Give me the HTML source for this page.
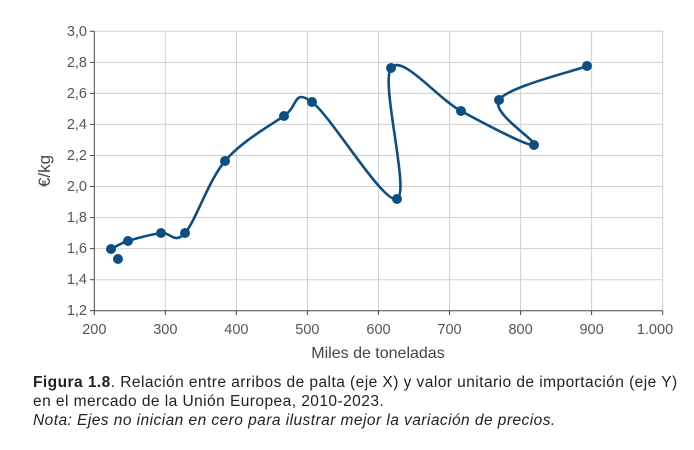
<!DOCTYPE html>
<html><head><meta charset="utf-8"><style>
body{margin:0;background:#fff;width:694px;height:450px;overflow:hidden;font-family:"Liberation Sans",sans-serif;}
.cap{position:absolute;left:33px;font-size:15.5px;letter-spacing:0.45px;color:#222;white-space:nowrap;}
</style></head><body>
<svg width="694" height="450" style="position:absolute;left:0;top:0" font-family="Liberation Sans, sans-serif">
<g stroke="#d0d0d0" stroke-width="1">
<line x1="94.3" y1="31.3" x2="662.7" y2="31.3"/>
<line x1="94.3" y1="62.4" x2="662.7" y2="62.4"/>
<line x1="94.3" y1="93.4" x2="662.7" y2="93.4"/>
<line x1="94.3" y1="124.4" x2="662.7" y2="124.4"/>
<line x1="94.3" y1="155.5" x2="662.7" y2="155.5"/>
<line x1="94.3" y1="186.5" x2="662.7" y2="186.5"/>
<line x1="94.3" y1="217.6" x2="662.7" y2="217.6"/>
<line x1="94.3" y1="248.6" x2="662.7" y2="248.6"/>
<line x1="94.3" y1="279.7" x2="662.7" y2="279.7"/>
<line x1="165.3" y1="31.3" x2="165.3" y2="310.7"/>
<line x1="236.4" y1="31.3" x2="236.4" y2="310.7"/>
<line x1="307.4" y1="31.3" x2="307.4" y2="310.7"/>
<line x1="378.5" y1="31.3" x2="378.5" y2="310.7"/>
<line x1="449.5" y1="31.3" x2="449.5" y2="310.7"/>
<line x1="520.6" y1="31.3" x2="520.6" y2="310.7"/>
<line x1="591.6" y1="31.3" x2="591.6" y2="310.7"/>
<line x1="662.7" y1="31.3" x2="662.7" y2="310.7"/>
</g>
<g stroke="#444" stroke-width="1">
<line x1="94.3" y1="31.3" x2="94.3" y2="310.7"/>
<line x1="94.3" y1="310.7" x2="662.7" y2="310.7"/>
<line x1="90" y1="31.3" x2="94.3" y2="31.3"/><line x1="90" y1="62.4" x2="94.3" y2="62.4"/><line x1="90" y1="93.4" x2="94.3" y2="93.4"/><line x1="90" y1="124.4" x2="94.3" y2="124.4"/><line x1="90" y1="155.5" x2="94.3" y2="155.5"/><line x1="90" y1="186.5" x2="94.3" y2="186.5"/><line x1="90" y1="217.6" x2="94.3" y2="217.6"/><line x1="90" y1="248.6" x2="94.3" y2="248.6"/><line x1="90" y1="279.7" x2="94.3" y2="279.7"/><line x1="90" y1="310.7" x2="94.3" y2="310.7"/>
<line x1="94.3" y1="310.7" x2="94.3" y2="315"/><line x1="165.3" y1="310.7" x2="165.3" y2="315"/><line x1="236.4" y1="310.7" x2="236.4" y2="315"/><line x1="307.4" y1="310.7" x2="307.4" y2="315"/><line x1="378.5" y1="310.7" x2="378.5" y2="315"/><line x1="449.5" y1="310.7" x2="449.5" y2="315"/><line x1="520.6" y1="310.7" x2="520.6" y2="315"/><line x1="591.6" y1="310.7" x2="591.6" y2="315"/><line x1="662.7" y1="310.7" x2="662.7" y2="315"/>
</g>
<g font-size="14.5" fill="#555" text-anchor="end">
<text x="87" y="36">3,0</text><text x="87" y="67">2,8</text><text x="87" y="98">2,6</text><text x="87" y="129">2,4</text><text x="87" y="160">2,2</text><text x="87" y="191">2,0</text><text x="87" y="222">1,8</text><text x="87" y="253">1,6</text><text x="87" y="284">1,4</text><text x="87" y="315">1,2</text>
</g>
<g font-size="14.5" fill="#555" text-anchor="middle">
<text x="94.3" y="334">200</text><text x="165.3" y="334">300</text><text x="236.4" y="334">400</text><text x="307.4" y="334">500</text><text x="378.5" y="334">600</text><text x="449.5" y="334">700</text><text x="520.6" y="334">800</text><text x="591.6" y="334">900</text><text x="655" y="334">1.000</text>
</g>
<text x="378" y="358" font-size="16" fill="#444" text-anchor="middle">Miles de toneladas</text>
<text transform="translate(50,171) rotate(-90)" font-size="17" fill="#444" text-anchor="middle">€/kg</text>
<path fill="none" stroke="#0d4f82" stroke-width="2.6" d="M111,249 C113.8,247.7 119.7,243.7 128,241 C136.3,238.3 151.5,234.3 161,233 C170.5,231.7 174.3,245 185,233 C195.7,221 208.5,180.5 225,161 C241.5,141.5 269.5,125.8 284,116 C298.5,106.2 293.2,88.2 312,102 C330.8,115.8 383.8,204.7 397,199 C410.2,193.3 380.3,82.7 391,68 C401.7,53.3 437.2,98.2 461,111 C484.8,123.8 527.7,146.8 534,145 C540.3,143.2 490.2,113.2 499,100 C507.8,86.8 572.3,71.7 587,66"/>
<g fill="#0d4f82">
<circle cx="111" cy="249" r="5"/><circle cx="118" cy="259" r="5"/><circle cx="128" cy="241" r="5"/><circle cx="161" cy="233" r="5"/><circle cx="185" cy="233" r="5"/><circle cx="225" cy="161" r="5"/><circle cx="284" cy="116" r="5"/><circle cx="312" cy="102" r="5"/><circle cx="397" cy="199" r="5"/><circle cx="391" cy="68" r="5"/><circle cx="461" cy="111" r="5"/><circle cx="534" cy="145" r="5"/><circle cx="499" cy="100" r="5"/><circle cx="587" cy="66" r="5"/>
</g>
</svg>
<div class="cap" style="top:374px"><b>Figura 1.8</b>. Relación entre arribos de palta (eje X) y valor unitario de importación (eje Y)</div>
<div class="cap" style="top:393px">en el mercado de la Unión Europea, 2010-2023.</div>
<div class="cap" style="top:412px"><i>Nota: Ejes no inician en cero para ilustrar mejor la variación de precios.</i></div>
</body></html>
